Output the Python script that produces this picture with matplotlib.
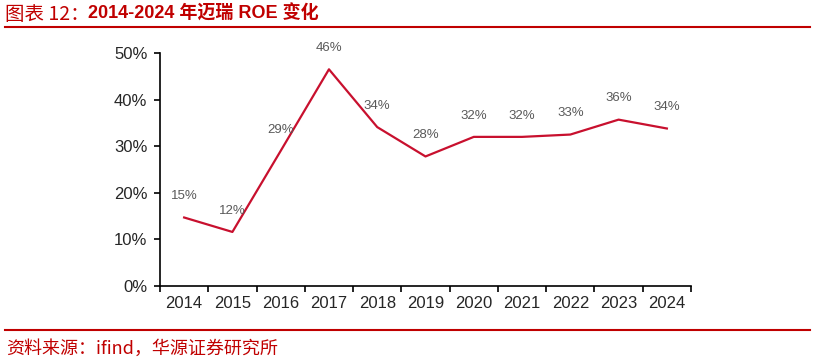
import matplotlib.pyplot as plt
import numpy as np

plt.rcParams['font.family'] = ['Liberation Sans', 'Noto Sans CJK SC', 'DejaVu Sans']

# Datos
years = ['2014', '2015', '2016', '2017', '2018', '2019', '2020', '2021', '2022', '2023', '2024']
roe = [14.7, 11.6, 29.0, 46.5, 34.1, 27.8, 32.0, 32.0, 32.5, 35.7, 33.8]
roe_labels = ['15%', '12%', '29%', '46%', '34%', '28%', '32%', '32%', '33%', '36%', '34%']
y_ticks = [0, 10, 20, 30, 40, 50]

red = '#C00000'

fig = plt.figure(figsize=(8.15, 3.64), dpi=100)
ax = fig.add_axes([160 / 815, 1 - 286 / 364, 531 / 815, 233 / 364])

x = np.arange(len(years))
ax.plot(x, roe, color='#C8102E', linewidth=1.6)

for xi, v, lab in zip(x, roe, roe_labels):
    ax.annotate(lab, (xi, v), xytext=(0, 11), textcoords='offset points',
                ha='center', va='bottom', fontsize=9.5, color='#595959')

ax.set_xlim(-0.5, len(years) - 0.5)
ax.set_ylim(0, 50)
ax.set_yticks(y_ticks)
ax.set_yticklabels([f'{t}%' for t in y_ticks], fontsize=12, color='#262626')
ax.set_xticks(x)
ax.set_xticklabels(years, fontsize=12, color='#262626')
ax.tick_params(axis='x', length=0, pad=7)
ax.set_xticks(np.arange(-0.5, len(years), 1), minor=True)
ax.tick_params(axis='x', which='minor', length=4, width=1.2, direction='out')
ax.tick_params(axis='y', length=4, width=1.2, direction='out', pad=5)

ax.spines['top'].set_visible(False)
ax.spines['right'].set_visible(False)
ax.spines['left'].set_linewidth(1.2)
ax.spines['bottom'].set_linewidth(1.2)

# Título y fuente
fig.text(5 / 815, 1 - 14 / 364, '图表 12：', fontsize=14, color=red, va='center',
         family=['Noto Sans CJK SC', 'DejaVu Sans'])
fig.text(88 / 815, 1 - 14 / 364, '2014-2024 年迈瑞 ROE 变化', fontsize=13, color=red,
         va='center', fontweight='bold', family=['Liberation Sans', 'Noto Sans CJK SC'])
fig.add_artist(plt.Line2D([5 / 815, 810 / 815], [1 - 27 / 364, 1 - 27 / 364],
                          color=red, linewidth=1.5))
fig.add_artist(plt.Line2D([5 / 815, 810 / 815], [1 - 330 / 364, 1 - 330 / 364],
                          color=red, linewidth=1.5))
fig.text(6 / 815, 1 - 349 / 364, '资料来源：ifind，华源证券研究所', fontsize=13, color=red,
         va='center', family=['Noto Sans CJK SC', 'DejaVu Sans'])

fig.savefig('out.png', dpi=100)
